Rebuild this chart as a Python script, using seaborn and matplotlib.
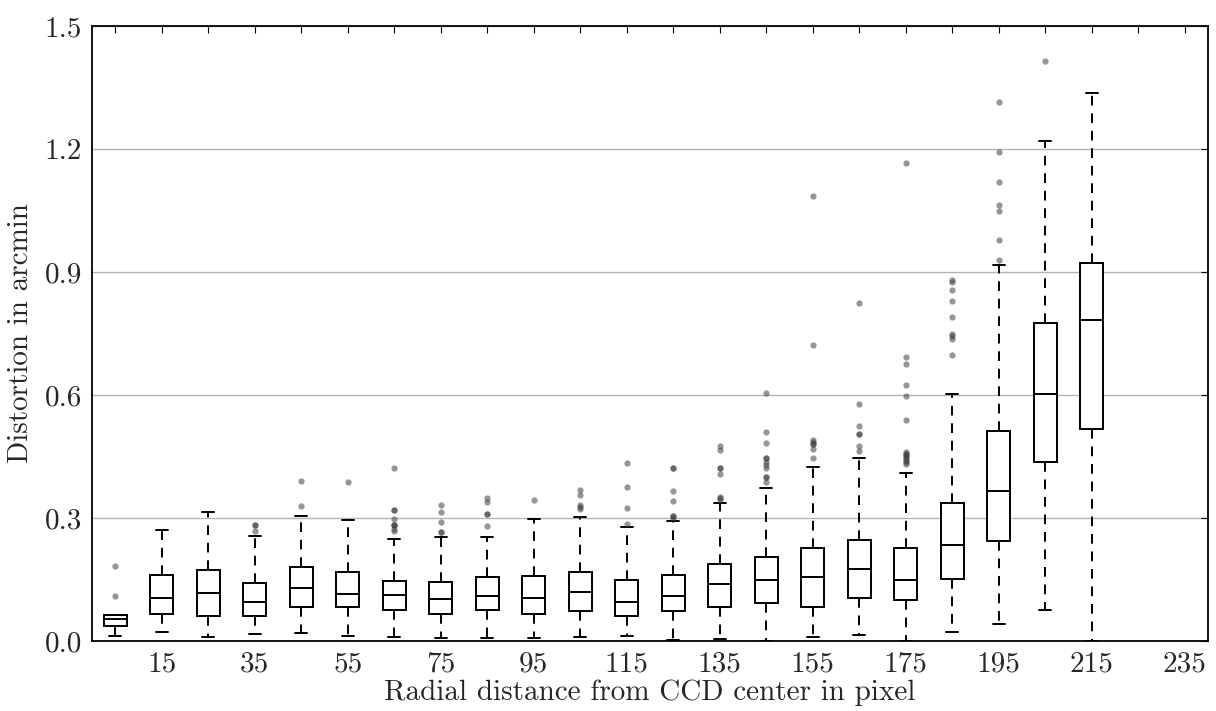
import numpy as np
import pandas as pd
import matplotlib
matplotlib.use("Agg")
import matplotlib.pyplot as plt
import seaborn as sns

# ---- data (distortion in arcmin) ----
positions = [5, 15, 25, 35, 45, 55, 65, 75, 85, 95, 105,
             115, 125, 135, 145, 155, 165, 175, 185, 195, 205, 215]
whisker_low = [0.013, 0.021, 0.010, 0.016, 0.020, 0.011, 0.010, 0.007, 0.007, 0.007, 0.010,
               0.011, 0.002, 0.006, 0.000, 0.009, 0.015, 0.000, 0.022, 0.042, 0.075, 0.000]
q1 = [0.037, 0.067, 0.062, 0.062, 0.083, 0.083, 0.075, 0.067, 0.075, 0.065, 0.072,
      0.062, 0.072, 0.084, 0.093, 0.084, 0.105, 0.100, 0.152, 0.243, 0.437, 0.518]
median = [0.053, 0.105, 0.118, 0.096, 0.129, 0.115, 0.112, 0.102, 0.110, 0.105, 0.120,
          0.096, 0.110, 0.138, 0.149, 0.155, 0.176, 0.149, 0.234, 0.366, 0.602, 0.783]
q3 = [0.063, 0.162, 0.173, 0.141, 0.180, 0.168, 0.147, 0.145, 0.156, 0.159, 0.168,
      0.150, 0.162, 0.187, 0.206, 0.228, 0.246, 0.228, 0.337, 0.513, 0.776, 0.921]
whisker_high = [0.064, 0.271, 0.314, 0.255, 0.305, 0.294, 0.250, 0.253, 0.253, 0.298, 0.302,
                0.279, 0.293, 0.337, 0.374, 0.424, 0.447, 0.410, 0.602, 0.916, 1.219, 1.337]
outliers = [
    [0.110, 0.183],
    [],
    [],
    [0.269, 0.283, 0.283],
    [0.330, 0.391],
    [0.387],
    [0.269, 0.274, 0.282, 0.284, 0.284, 0.298, 0.320, 0.320, 0.422],
    [0.267, 0.267, 0.290, 0.315, 0.332],
    [0.281, 0.309, 0.309, 0.340, 0.350],
    [0.344],
    [0.322, 0.326, 0.332, 0.355, 0.368],
    [0.286, 0.325, 0.375, 0.433],
    [0.301, 0.306, 0.306, 0.341, 0.365, 0.422, 0.422],
    [0.345, 0.348, 0.352, 0.407, 0.421, 0.421, 0.466, 0.476],
    [0.389, 0.401, 0.401, 0.422, 0.429, 0.436, 0.446, 0.446, 0.484, 0.510, 0.606],
    [0.447, 0.469, 0.480, 0.480, 0.485, 0.490, 0.722, 1.085],
    [0.463, 0.476, 0.505, 0.505, 0.525, 0.578, 0.824],
    [0.432, 0.436, 0.440, 0.445, 0.449, 0.452, 0.456, 0.456, 0.460,
     0.539, 0.598, 0.624, 0.675, 0.693, 1.167],
    [0.698, 0.737, 0.745, 0.749, 0.790, 0.829, 0.855, 0.876, 0.881],
    [0.930, 0.977, 1.048, 1.064, 1.120, 1.193, 1.315],
    [1.415],
    [],
]
xtick_positions = [5, 15, 25, 35, 45, 55, 65, 75, 85, 95, 105, 115,
                   125, 135, 145, 155, 165, 175, 185, 195, 205, 215, 225, 235]
xtick_labels = ["", "15", "", "35", "", "55", "", "75", "", "95", "", "115",
                "", "135", "", "155", "", "175", "", "195", "", "215", "", "235"]
ytick_values = [0.0, 0.3, 0.6, 0.9, 1.2, 1.5]
ytick_labels = ["0.0", "0.3", "0.6", "0.9", "1.2", "1.5"]

# ---- build a long table whose box statistics equal the values above ----
N = 100
rows = []
for i, p in enumerate(positions):
    vals = ([whisker_low[i]] + [q1[i]] * N + [median[i]] * N + [q3[i]] * N
            + [whisker_high[i]] + outliers[i])
    rows += [(p, v) for v in vals]
df = pd.DataFrame(rows, columns=["pos", "val"])

sns.set_style("white")
plt.rcParams["font.family"] = ["cmr10", "DejaVu Serif"]
plt.rcParams["mathtext.fontset"] = "cm"
plt.rcParams["axes.formatter.use_mathtext"] = True

fig = plt.figure(figsize=(12.16, 7.11), dpi=100)
ax = fig.add_axes([92 / 1216, 1 - 641 / 711, (1208 - 92) / 1216, (641 - 26) / 711])

ax.yaxis.grid(True, color="#b4b4b4", linewidth=1.0, zorder=0)
ax.set_axisbelow(True)

sns.boxplot(data=df, x="pos", y="val", native_scale=True, width=0.5,
            color="white", linecolor="black", linewidth=1.4, saturation=1,
            whis=1.5,
            whiskerprops=dict(linestyle=(0, (5, 4))),
            flierprops=dict(marker="o", markersize=4.5, markerfacecolor="#404040",
                            markeredgecolor="none", alpha=0.55),
            ax=ax)

ax.set_xlim(0, 240)
ax.set_ylim(0, 1.5)
ax.set_xticks(xtick_positions)
ax.set_xticklabels(xtick_labels)
ax.set_yticks(ytick_values)
ax.set_yticklabels(ytick_labels)
ax.tick_params(direction="in", length=5, width=0.8, top=True, right=True,
               labelsize=21, pad=7, color="black")
for s in ax.spines.values():
    s.set_color("black")
    s.set_linewidth(1.3)

ax.set_xlabel("Radial distance from CCD center in pixel", fontsize=21, labelpad=2)
ax.set_ylabel("Distortion in arcmin", fontsize=21, labelpad=8)

fig.savefig("out.png", dpi=100)
